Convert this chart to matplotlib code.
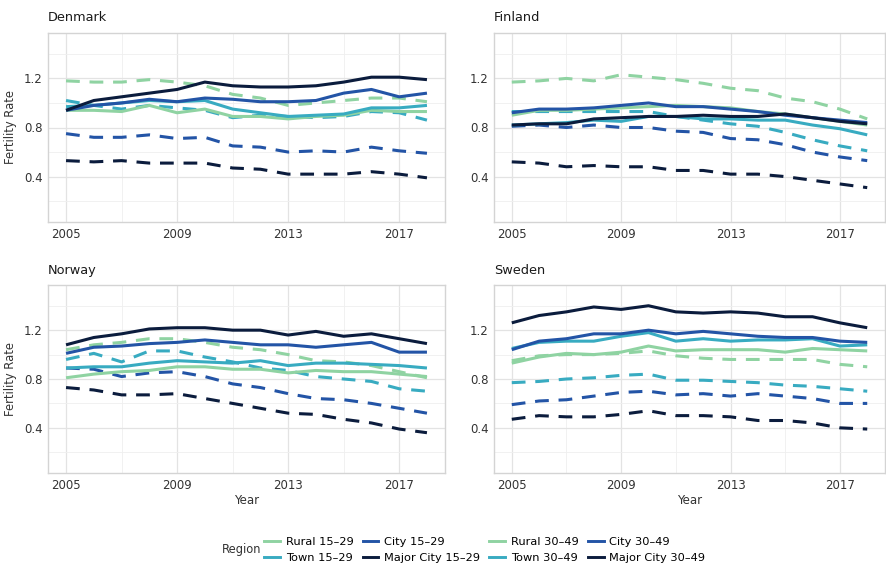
import matplotlib
matplotlib.use("Agg")
import matplotlib.pyplot as plt
from matplotlib.lines import Line2D

years = list(range(2005, 2019))
countries = ["Denmark", "Finland", "Norway", "Sweden"]
regions = ["Rural", "Town", "City", "Major City"]
colors = {"Rural": "#8fd3a2", "Town": "#38abc1", "City": "#2354a6", "Major City": "#0b1c3d"}

# ages 15-29 (dashed) and 30-49 (solid)
denmark_15_29 = {
    "Rural":      [1.18, 1.17, 1.17, 1.19, 1.17, 1.14, 1.07, 1.04, 0.98, 1.00, 1.02, 1.04, 1.04, 1.01],
    "Town":       [1.02, 0.98, 0.95, 0.98, 0.96, 0.94, 0.88, 0.90, 0.89, 0.88, 0.89, 0.93, 0.92, 0.86],
    "City":       [0.75, 0.72, 0.72, 0.74, 0.71, 0.72, 0.65, 0.64, 0.60, 0.61, 0.60, 0.64, 0.61, 0.59],
    "Major City": [0.53, 0.52, 0.53, 0.51, 0.51, 0.51, 0.47, 0.46, 0.42, 0.42, 0.42, 0.44, 0.42, 0.39],
}
denmark_30_49 = {
    "Rural":      [0.94, 0.94, 0.93, 0.98, 0.92, 0.95, 0.89, 0.89, 0.87, 0.89, 0.90, 0.94, 0.93, 0.93],
    "Town":       [0.97, 0.98, 1.00, 1.02, 1.01, 1.02, 0.95, 0.92, 0.89, 0.90, 0.91, 0.96, 0.96, 0.98],
    "City":       [0.94, 0.98, 1.00, 1.03, 1.01, 1.04, 1.03, 1.01, 1.01, 1.02, 1.08, 1.11, 1.05, 1.08],
    "Major City": [0.94, 1.02, 1.05, 1.08, 1.11, 1.17, 1.14, 1.13, 1.13, 1.14, 1.17, 1.21, 1.21, 1.19],
}
finland_15_29 = {
    "Rural":      [1.17, 1.18, 1.20, 1.18, 1.23, 1.21, 1.19, 1.16, 1.12, 1.10, 1.04, 1.01, 0.95, 0.87],
    "Town":       [0.93, 0.93, 0.93, 0.93, 0.93, 0.93, 0.89, 0.86, 0.83, 0.81, 0.76, 0.70, 0.65, 0.61],
    "City":       [0.81, 0.82, 0.80, 0.82, 0.80, 0.80, 0.77, 0.76, 0.71, 0.70, 0.66, 0.60, 0.56, 0.53],
    "Major City": [0.52, 0.51, 0.48, 0.49, 0.48, 0.48, 0.45, 0.45, 0.42, 0.42, 0.40, 0.37, 0.34, 0.31],
}
finland_30_49 = {
    "Rural":      [0.90, 0.94, 0.94, 0.95, 0.96, 0.97, 0.98, 0.97, 0.96, 0.93, 0.91, 0.88, 0.85, 0.82],
    "Town":       [0.82, 0.83, 0.84, 0.86, 0.85, 0.89, 0.89, 0.87, 0.87, 0.86, 0.86, 0.82, 0.79, 0.74],
    "City":       [0.92, 0.95, 0.95, 0.96, 0.98, 1.00, 0.97, 0.97, 0.95, 0.93, 0.90, 0.88, 0.86, 0.84],
    "Major City": [0.82, 0.83, 0.83, 0.87, 0.88, 0.89, 0.89, 0.90, 0.89, 0.89, 0.91, 0.88, 0.85, 0.83],
}
norway_15_29 = {
    "Rural":      [1.04, 1.08, 1.10, 1.13, 1.13, 1.10, 1.06, 1.04, 1.00, 0.95, 0.94, 0.91, 0.86, 0.81],
    "Town":       [0.96, 1.01, 0.94, 1.03, 1.03, 0.98, 0.94, 0.89, 0.87, 0.82, 0.80, 0.78, 0.72, 0.70],
    "City":       [0.89, 0.88, 0.82, 0.85, 0.86, 0.82, 0.76, 0.73, 0.68, 0.64, 0.63, 0.60, 0.56, 0.52],
    "Major City": [0.73, 0.71, 0.67, 0.67, 0.68, 0.64, 0.60, 0.56, 0.52, 0.51, 0.47, 0.44, 0.39, 0.36],
}
norway_30_49 = {
    "Rural":      [0.81, 0.84, 0.86, 0.87, 0.90, 0.90, 0.88, 0.88, 0.85, 0.87, 0.86, 0.86, 0.84, 0.82],
    "Town":       [0.89, 0.90, 0.90, 0.93, 0.95, 0.94, 0.93, 0.95, 0.91, 0.93, 0.93, 0.92, 0.91, 0.89],
    "City":       [1.01, 1.06, 1.07, 1.09, 1.10, 1.12, 1.10, 1.08, 1.08, 1.06, 1.08, 1.10, 1.02, 1.02],
    "Major City": [1.08, 1.14, 1.17, 1.21, 1.22, 1.22, 1.20, 1.20, 1.16, 1.19, 1.15, 1.17, 1.13, 1.09],
}
sweden_15_29 = {
    "Rural":      [0.95, 0.99, 1.00, 1.00, 1.01, 1.03, 0.99, 0.97, 0.96, 0.96, 0.96, 0.96, 0.92, 0.90],
    "Town":       [0.77, 0.78, 0.80, 0.81, 0.83, 0.84, 0.79, 0.79, 0.78, 0.77, 0.75, 0.74, 0.72, 0.70],
    "City":       [0.59, 0.62, 0.63, 0.66, 0.69, 0.70, 0.67, 0.68, 0.66, 0.68, 0.66, 0.64, 0.60, 0.60],
    "Major City": [0.47, 0.50, 0.49, 0.49, 0.51, 0.54, 0.50, 0.50, 0.49, 0.46, 0.46, 0.44, 0.40, 0.39],
}
sweden_30_49 = {
    "Rural":      [0.93, 0.98, 1.01, 1.00, 1.02, 1.07, 1.03, 1.04, 1.04, 1.04, 1.02, 1.05, 1.04, 1.03],
    "Town":       [1.05, 1.10, 1.11, 1.11, 1.15, 1.18, 1.11, 1.13, 1.11, 1.12, 1.12, 1.13, 1.07, 1.08],
    "City":       [1.04, 1.11, 1.13, 1.17, 1.17, 1.20, 1.17, 1.19, 1.17, 1.15, 1.14, 1.14, 1.11, 1.10],
    "Major City": [1.26, 1.32, 1.35, 1.39, 1.37, 1.40, 1.35, 1.34, 1.35, 1.34, 1.31, 1.31, 1.26, 1.22],
}
data = {
    "Denmark": (denmark_15_29, denmark_30_49),
    "Finland": (finland_15_29, finland_30_49),
    "Norway": (norway_15_29, norway_30_49),
    "Sweden": (sweden_15_29, sweden_30_49),
}
x_ticks = [2005, 2009, 2013, 2017]
y_ticks = [0.4, 0.8, 1.2]

W, H = 887, 566
fig = plt.figure(figsize=(W / 100, H / 100), dpi=100)
plt.rcParams["font.family"] = ["DejaVu Sans"]

# panel boxes in pixels: left, right, top, bottom
boxes = {
    "Denmark": (48, 445, 33, 222),
    "Finland": (494, 885, 33, 222),
    "Norway": (48, 445, 285, 473),
    "Sweden": (494, 885, 285, 473),
}
text_col = "#333333"
for c in countries:
    l, r, t, b = boxes[c]
    ax = fig.add_axes([l / W, 1 - b / H, (r - l) / W, (b - t) / H])
    d15, d30 = data[c]
    for reg in regions:
        ax.plot(years, d15[reg], color=colors[reg], lw=2.2, ls=(0, (4.5, 3.2)), solid_capstyle="butt")
    for reg in regions:
        ax.plot(years, d30[reg], color=colors[reg], lw=2.2, solid_capstyle="butt")
    ax.set_xlim(2004.35, 2018.65)
    ax.set_ylim(0.03, 1.57)
    ax.set_xticks(x_ticks)
    ax.set_xticks([2007, 2011, 2015], minor=True)
    ax.set_yticks(y_ticks)
    ax.set_yticks([0.2, 0.6, 1.0, 1.4], minor=True)
    ax.set_yticklabels(["0.4", "0.8", "1.2"])
    ax.grid(True, which="major", color="#e3e3e3", lw=0.9)
    ax.grid(True, which="minor", color="#efefef", lw=0.6)
    ax.set_axisbelow(True)
    for s in ax.spines.values():
        s.set_color("#d4d4d4")
        s.set_linewidth(1.0)
    ax.tick_params(which="both", length=0, labelsize=8.5, labelcolor=text_col, pad=4)
    ax.text(0.0, 1.045, c, transform=ax.transAxes, fontsize=9.3, color="#1a1a1a", ha="left", va="bottom")
    if c in ("Denmark", "Norway"):
        ax.set_ylabel("Fertility Rate", fontsize=8.3, color=text_col, labelpad=5)
    if c in ("Norway", "Sweden"):
        ax.set_xlabel("Year", fontsize=8.5, color=text_col, labelpad=2)

handles = []
labels = []
for age in ["15–29", "30–49"]:
    for reg in regions:
        handles.append(Line2D([0], [0], color=colors[reg], lw=2.1))
        labels.append(f"{reg} {age}")
fig.text(222 / W, 1 - 550 / H, "Region", fontsize=8.3, color=text_col, ha="left", va="center")
fig.legend(handles, labels, ncol=4, loc="center left", bbox_to_anchor=(264 / W, 1 - 550 / H),
           frameon=False, fontsize=8.2, handlelength=1.4, handletextpad=0.5,
           columnspacing=0.8, labelspacing=0.55, borderaxespad=0, borderpad=0)

fig.savefig("out.png", dpi=100)
